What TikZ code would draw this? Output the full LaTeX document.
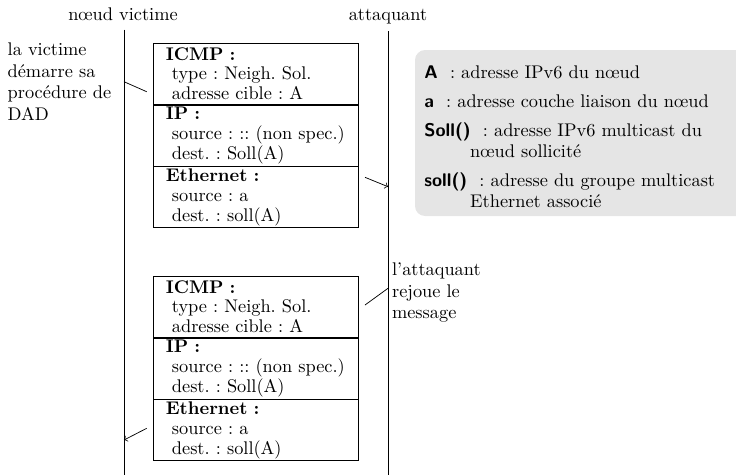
\documentclass[tikz,border=0pt]{standalone}
\usepackage{fontspec}
\begin{document}
\frenchspacing
\begin{tikzpicture}[x=0.5455pt,y=-0.5455pt,
  title/.style={font=\fontsize{10pt}{12pt}\selectfont, inner sep=0pt, anchor=base},
  note/.style={font=\fontsize{10pt}{11.84pt}\selectfont, align=left, inner sep=0pt, anchor=north west},
  legtext/.style={font=\fontsize{10pt}{11.6pt}\selectfont, align=left, inner sep=0pt, anchor=north west},
  sec/.style={draw, rectangle, anchor=north, minimum width=112.1pt, minimum height=33.33pt,
    text width=98.1pt, inner xsep=7pt, inner ysep=0pt, align=left,
    font=\fontsize{10pt}{10.8pt}\selectfont},
  life/.style={line width=0.5pt},
  tick/.style={line width=0.4pt},
  msg/.style={->, line width=0.4pt},
]
\useasboundingbox (0,0) rectangle (736,475);

% legend background
\begin{scope}
  \clip (0,0) rectangle (736,475);
  \fill[black!10, rounded corners=5.5pt] (415,50) rectangle (760,216);
\end{scope}

% titles and lifelines
\node[title] (vtitle) at (123,20.7) {nœud victime};
\node[title] (atitle) at (388,20.7) {attaquant};
\coordinate (vtop) at (124,29.5);
\coordinate (vbot) at (124,475);
\coordinate (atop) at (388,31);
\coordinate (abot) at (388,475);
\draw[life] (vtop) -- (vbot);
\draw[life] (atop) -- (abot);

% first message
\node[sec] (icmpA) at (255.75,42.7) {\textbf{ICMP :}\\~type : Neigh. Sol.\\~adresse cible : A};
\node[sec] (ipA) at (icmpA.south) {\textbf{IP :}\\~source : :: (non spec.)\\~dest. : Soll(A)};
\node[sec] (ethA) at (ipA.south) {\textbf{Ethernet :}\\~source : a\\~dest. : soll(A)};

% second message
\node[sec] (icmpB) at (255.75,275.7) {\textbf{ICMP :}\\~type : Neigh. Sol.\\~adresse cible : A};
\node[sec] (ipB) at (icmpB.south) {\textbf{IP :}\\~source : :: (non spec.)\\~dest. : Soll(A)};
\node[sec] (ethB) at (ipB.south) {\textbf{Ethernet :}\\~source : a\\~dest. : soll(A)};

% notes
\node[note] (vnote) at (7.3,42.3) {la victime\\démarre sa\\procédure de\\DAD};
\node[note] (anote) at (391.7,262.3) {l'attaquant\\rejoue le\\message};

% connectors
\coordinate (t1a) at (124,81.7);
\coordinate (t1b) at (146.7,91.7);
\draw[tick] (t1a) -- (t1b);
\coordinate (m1a) at (365,177.3);
\coordinate (m1b) at (388,186.7);
\draw[msg] (m1a) -- (m1b);
\coordinate (t2a) at (365,305);
\coordinate (t2b) at (388,288.3);
\draw[tick] (t2a) -- (t2b);
\coordinate (m2a) at (146.7,428.3);
\coordinate (m2b) at (124,440);
\draw[msg] (m2a) -- (m2b);

% legend
\node[legtext] (legend) at (424,65) {%
\textsf{\bfseries A}~ : adresse IPv6 du nœud\\[4.2pt]
\textsf{\bfseries a}~ : adresse couche liaison du nœud\\[4.2pt]
\textsf{\bfseries Soll()}~ : adresse IPv6 multicast du\\
\hspace*{25pt}nœud sollicité\\[4.2pt]
\textsf{\bfseries soll()}~ : adresse du groupe multicast\\
\hspace*{25pt}Ethernet associé};
\end{tikzpicture}
\end{document}
